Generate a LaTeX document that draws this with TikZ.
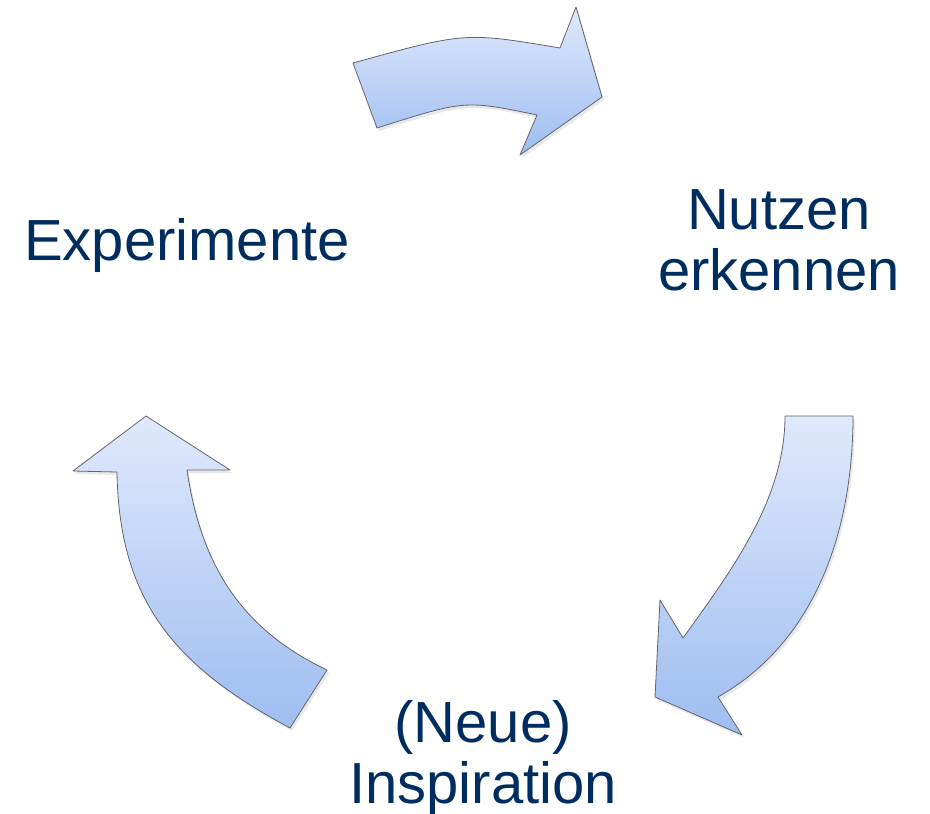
\documentclass[tikz,border=0pt]{standalone}
\usepackage{fontspec}
\setmainfont{Liberation Sans}
\usetikzlibrary{shadows}
\definecolor{navy}{RGB}{0,45,95}
\definecolor{arrtop}{RGB}{224,233,252}
\definecolor{arrbot}{RGB}{158,189,241}
\definecolor{arrline}{RGB}{100,100,105}
\begin{document}
\begin{tikzpicture}[x=1pt,y=-1pt,
		cyclearrow/.style={draw=arrline,line width=0.8pt,line join=round,top color=arrtop,bottom color=arrbot,
			drop shadow={opacity=0.18,shadow xshift=2pt,shadow yshift=-3pt}},
		label/.style={text=navy,font=\fontsize{58}{61}\selectfont,align=center,inner sep=0pt}]
				\useasboundingbox (0,0) rectangle (930,814);
				% top arrow
				\coordinate (T1) at (353,63);
				\coordinate (T2) at (560,48);
				\coordinate (T3) at (576,7);
				\coordinate (T4) at (602,97);
				\coordinate (T5) at (520,155);
				\coordinate (T6) at (537,115);
				\coordinate (T7) at (377,128);
				\draw[cyclearrow] (T1) .. controls (465,32) .. (T2) -- (T3) -- (T4) -- (T5) -- (T6) .. controls (465,100) .. (T7) -- cycle;
				% right arrow
				\coordinate (R1) at (785,416);
				\coordinate (R2) at (853,416);
				\coordinate (R3) at (718,697);
				\coordinate (R4) at (742,735);
				\coordinate (R5) at (655,697);
				\coordinate (R6) at (660,600);
				\coordinate (R7) at (683,638);
				\draw[cyclearrow] (R1) -- (R2) .. controls (853,528) and (817,641) .. (R3) -- (R4) -- (R5) -- (R6) -- (R7) .. controls (732,570) and (785,499) .. (R1) -- cycle;
				% left arrow
				\coordinate (L1) at (290,728);
				\coordinate (L2) at (117,472);
				\coordinate (L3) at (73,471);
				\coordinate (L4) at (146,416);
				\coordinate (L5) at (230,470);
				\coordinate (L6) at (187,470);
				\coordinate (L7) at (327,670);
				\draw[cyclearrow] (L1) .. controls (176,667) and (119,602) .. (L2) -- (L3) -- (L4) -- (L5) -- (L6) .. controls (201,565) and (241,629) .. (L7) -- cycle;
				% labels
				\node[label,anchor=base] (exp) at (187,260) {Experimente};
				\node[label,anchor=base] (nutzen) at (779,290) {Nutzen\\erkennen};
				\node[label,anchor=base] (inspir) at (483,803) {(Neue)\\Inspiration};
			\end{tikzpicture}
\end{document}
